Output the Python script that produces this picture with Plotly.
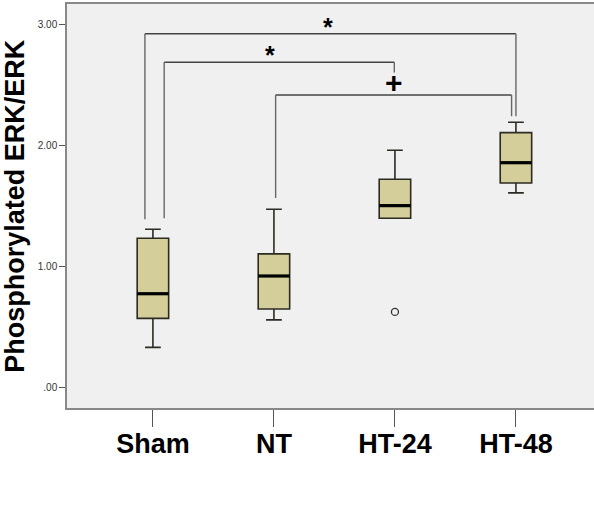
import plotly.graph_objects as go

# ---- data ----
groups = ["Sham", "NT", "HT-24", "HT-48"]
q1 = [0.574, 0.651, 1.399, 1.690]
median = [0.777, 0.923, 1.503, 1.857]
q3 = [1.234, 1.105, 1.720, 2.105]
lower_whisker = [0.335, 0.561, 1.399, 1.608]
upper_whisker = [1.308, 1.473, 1.959, 2.190]
outlier_group = [2]
outlier_value = [0.627]

ytick_vals = [0, 1, 2, 3]
ytick_text = [".00", "1.00", "2.00", "3.00"]

# significance brackets: (left x, right x, bar y, left bottom, right bottom, label, label x)
brackets = [
    (-0.066, 3.000, 2.920, 1.39, 2.24, "*", 1.45),
    (0.093, 1.995, 2.685, 1.40, 2.60, "*", 0.97),
    (1.014, 2.964, 2.415, 1.566, 2.24, "+", 1.995),
]

FONT = "Arial, Liberation Sans, sans-serif"
box_w = 0.26
xpos = list(range(len(groups)))

fig = go.Figure()
fig.add_trace(go.Box(
    x=xpos, q1=q1, median=median, q3=q3,
    lowerfence=lower_whisker, upperfence=upper_whisker,
    width=box_w, whiskerwidth=0.5,
    fillcolor="#D4CF9A",
    line=dict(color="#2b2b22", width=1.6),
    boxpoints=False, showlegend=False, hoverinfo="skip",
))
fig.add_trace(go.Scatter(
    x=outlier_group, y=outlier_value, mode="markers",
    marker=dict(symbol="circle-open", size=7, color="#333333", line=dict(width=1.3)),
    showlegend=False, hoverinfo="skip",
))

shapes = []
for i, m in zip(xpos, median):
    shapes.append(dict(type="line", xref="x", yref="y",
                       x0=i - box_w / 2, x1=i + box_w / 2, y0=m, y1=m,
                       line=dict(color="black", width=3.2)))

annotations = []
for xl, xr, yb, bl, br, lab, lx in brackets:
    ln = dict(color="#444444", width=1.4)
    shapes.append(dict(type="line", xref="x", yref="y", x0=xl, x1=xr, y0=yb, y1=yb, line=ln))
    shapes.append(dict(type="line", xref="x", yref="y", x0=xl, x1=xl, y0=bl, y1=yb, line=dict(color="#666666", width=1.4)))
    shapes.append(dict(type="line", xref="x", yref="y", x0=xr, x1=xr, y0=br, y1=yb, line=dict(color="#666666", width=1.4)))
    annotations.append(dict(
        x=lx, y=yb, xref="x", yref="y",
        text="<b>%s</b>" % lab, showarrow=False, yanchor="bottom",
        yshift=-9 if lab == "*" else -6,
        font=dict(family=FONT, size=25 if lab == "*" else 30, color="black"),
    ))

annotations.append(dict(
    x=-0.099, y=0.5, xref="paper", yref="paper", text="<b>Phosphorylated ERK/ERK</b>",
    textangle=-90, showarrow=False, xanchor="center", yanchor="middle",
    font=dict(family=FONT, size=27, color="black"),
))

fig.update_layout(
    width=594, height=524,
    margin=dict(l=67, r=0, t=4, b=116),
    paper_bgcolor="white", plot_bgcolor="#F0F0F0",
    shapes=shapes, annotations=annotations,
    font=dict(family=FONT),
    xaxis=dict(
        range=[-0.71, 3.645], tickvals=xpos,
        ticktext=["<b>%s</b>" % g for g in groups],
        tickfont=dict(family=FONT, size=27, color="black"),
        ticks="outside", ticklen=17, tickcolor="#555555", tickwidth=1.3,
        ticklabelstandoff=-6,
        showgrid=False, zeroline=False,
        showline=True, linecolor="#888888", linewidth=1.5, mirror=True,
    ),
    yaxis=dict(
        range=[-0.165, 3.165], tickvals=ytick_vals, ticktext=ytick_text,
        tickfont=dict(family=FONT, size=10, color="#333333"),
        ticks="outside", ticklen=6, tickcolor="#555555", tickwidth=1.3,
        showgrid=False, zeroline=False,
        showline=True, linecolor="#888888", linewidth=1.5,
    ),
)

fig.write_html("out.html")
